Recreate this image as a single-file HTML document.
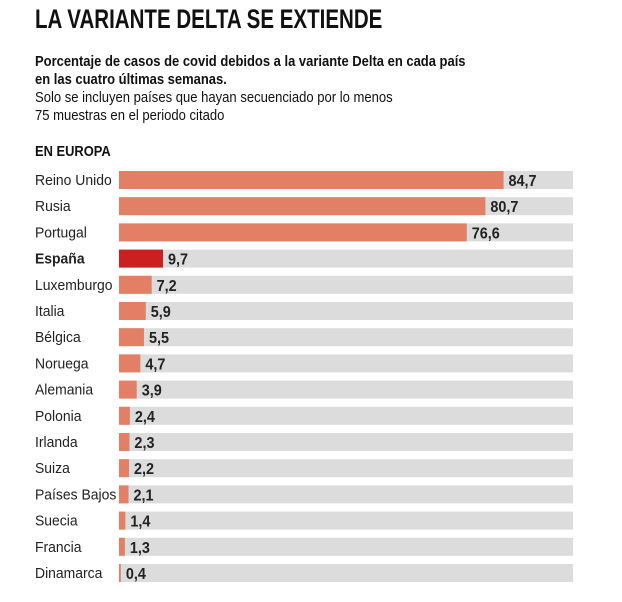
<!DOCTYPE html>
<html><head><meta charset="utf-8"><style>
body{margin:0;background:#fff;width:622px;height:602px;overflow:hidden;font-family:"Liberation Sans",sans-serif;color:#111}
.t{position:absolute;white-space:nowrap;transform-origin:0 0}
</style></head><body>
<div class="t" style="left:35px;top:4px;font-size:27px;font-weight:bold;transform:scaleX(0.76)">LA VARIANTE DELTA SE EXTIENDE</div>
<div class="t" style="left:35px;top:53px;font-size:15px;font-weight:bold;line-height:18px;transform:scaleX(0.865)">Porcentaje de casos de covid debidos a la variante Delta en cada país<br>en las cuatro últimas semanas.</div>
<div class="t" style="left:35px;top:89px;font-size:15px;line-height:18px;transform:scaleX(0.87)">Solo se incluyen países que hayan secuenciado por lo menos<br>75 muestras en el periodo citado</div>
<div class="t" style="left:35px;top:143px;font-size:15px;font-weight:bold;transform:scaleX(0.86)">EN EUROPA</div>
<svg id="c" width="622" height="602" style="position:absolute;left:0;top:0"></svg>
<script>
const countries=["Reino Unido","Rusia","Portugal","España","Luxemburgo","Italia","Bélgica","Noruega","Alemania","Polonia","Irlanda","Suiza","Países Bajos","Suecia","Francia","Dinamarca"];
const values=[84.7,80.7,76.6,9.7,7.2,5.9,5.5,4.7,3.9,2.4,2.3,2.2,2.1,1.4,1.3,0.4];
const labels=["84,7","80,7","76,6","9,7","7,2","5,9","5,5","4,7","3,9","2,4","2,3","2,2","2,1","1,4","1,3","0,4"];
const maxV=100;
const x0=119,W=454,y0=171,step=26.2,bh=18;
const xs=v=>v/maxV*W;
const svg=document.getElementById('c');
const NS="http://www.w3.org/2000/svg";
function mk(t,a){const e=document.createElementNS(NS,t);for(const k in a)e.setAttribute(k,a[k]);svg.appendChild(e);return e;}
countries.forEach((c,i)=>{
  const y=y0+i*step;
  const hl=c==="España";
  const tr=mk('rect',{x:x0,y:y,width:W,height:bh,fill:'#dcdcdc'});
  
  
  const b=mk('rect',{x:x0,y:y,width:xs(values[i]),height:bh,fill:hl?'#cc1f1f':'#e27f64'});
  
  
  const l=mk('text',{x:35,y:y+14,'font-size':15,'font-weight':hl?'bold':'normal',fill:'#222'});
  l.textContent=c;
  l.setAttribute('transform','translate(35,0) scale(0.93,1) translate(-35,0)');
  
  
  const vx=x0+xs(values[i])+5;
  const v=mk('text',{x:vx,y:y+15,'font-size':16,'font-weight':'bold',fill:'#222'});
  v.textContent=labels[i];
  v.setAttribute('transform','translate('+vx+',0) scale(0.9,1) translate('+(-vx)+',0)');
  
  
});
</script>
</body></html>
